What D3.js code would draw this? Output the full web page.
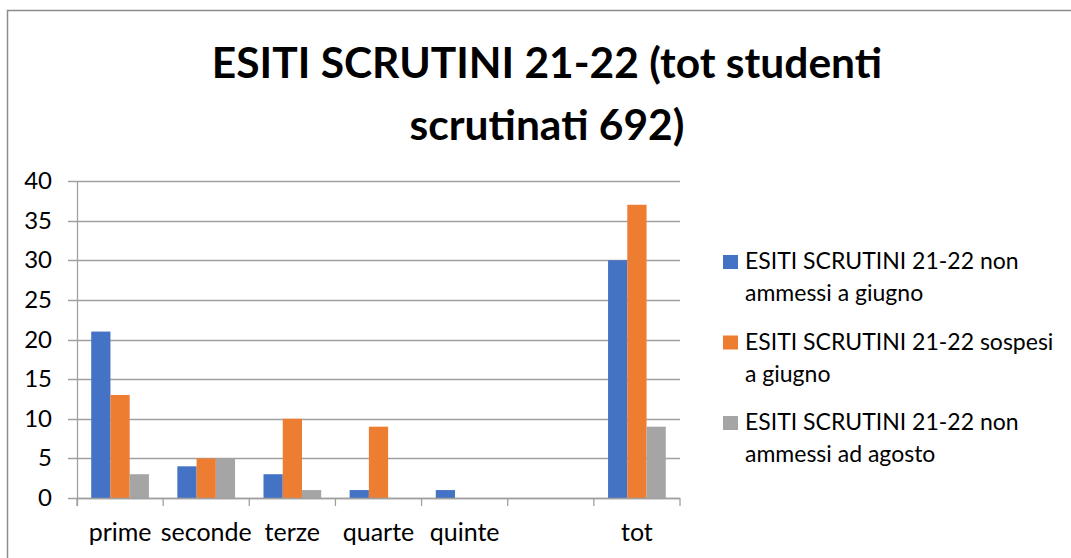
<!DOCTYPE html>
<html>
<head>
<meta charset="utf-8">
<script src="https://cdn.jsdelivr.net/npm/d3@7"></script>
<style>
  body { margin: 0; background: #fff; }
  text { font-family: Lato, "Open Sans", sans-serif; fill: #000; }
</style>
</head>
<body>
<script>
  var width = 1071;
  var height = 558;

  var categories = ["prime", "seconde", "terze", "quarte", "quinte", "", "tot"];
  var seriesNames = [
    ["ESITI SCRUTINI 21-22 non", "ammessi a giugno"],
    ["ESITI SCRUTINI 21-22 sospesi", "a giugno"],
    ["ESITI SCRUTINI 21-22 non", "ammessi ad agosto"]
  ];
  var nonAmmessiGiugno = [21, 4, 3, 1, 1, 0, 30];
  var sospesiGiugno = [13, 5, 10, 9, 0, 0, 37];
  var nonAmmessiAgosto = [3, 5, 1, 0, 0, 0, 9];
  var yTicks = [0, 5, 10, 15, 20, 25, 30, 35, 40];
  var colors = ["#4472C4", "#ED7D31", "#A5A5A5"];

  var series = [nonAmmessiGiugno, sospesiGiugno, nonAmmessiAgosto];

  var svg = d3.select("body")
    .append("svg")
    .attr("width", width)
    .attr("height", height);

  // chart frame
  svg.append("rect")
    .attr("x", 7.5)
    .attr("y", 10.5)
    .attr("width", 1200)
    .attr("height", 700)
    .style("fill", "none")
    .style("stroke", "#8c8c8c")
    .style("stroke-width", 1.5);

  // title
  var title = svg.append("text")
    .attr("text-anchor", "middle")
    .style("font-weight", "bold")
    .style("font-size", "42.5px");
  title.append("tspan").attr("x", 547).attr("y", 78).text("ESITI SCRUTINI 21-22 (tot studenti");
  title.append("tspan").attr("x", 547).attr("y", 140).text("scrutinati 692)");

  var plotLeft = 77, plotRight = 680, plotTop = 181, plotBottom = 498;

  var x0 = d3.scaleBand()
    .domain(d3.range(categories.length))
    .range([plotLeft, plotRight])
    .paddingInner(0.33)
    .paddingOuter(0.165);

  var x1 = d3.scaleBand()
    .domain(d3.range(series.length))
    .range([0, x0.bandwidth()]);

  var y = d3.scaleLinear()
    .domain([0, 40])
    .range([plotBottom, plotTop]);

  // gridlines
  svg.append("g")
    .selectAll("line")
    .data(yTicks)
    .enter()
    .append("line")
    .attr("x1", plotLeft - 9)
    .attr("x2", plotRight)
    .attr("y1", function(d) { return Math.round(y(d)) + 0.5; })
    .attr("y2", function(d) { return Math.round(y(d)) + 0.5; })
    .style("stroke", "#a0a0a0")
    .style("stroke-width", 1.3);

  // y labels
  svg.append("g")
    .selectAll("text")
    .data(yTicks)
    .enter()
    .append("text")
    .attr("x", 52)
    .attr("y", function(d) { return y(d) + 8; })
    .attr("text-anchor", "end")
    .style("font-size", "24px")
    .text(function(d) { return d; });

  // bars
  var groups = svg.append("g")
    .selectAll("g")
    .data(categories)
    .enter()
    .append("g")
    .attr("transform", function(d, i) { return "translate(" + x0(i) + ",0)"; });

  groups.selectAll("rect")
    .data(function(d, i) { return series.map(function(s, k) { return { k: k, v: s[i] }; }); })
    .enter()
    .append("rect")
    .attr("x", function(d) { return x1(d.k); })
    .attr("width", x1.bandwidth())
    .attr("y", function(d) { return y(d.v); })
    .attr("height", function(d) { return plotBottom - y(d.v); })
    .style("fill", function(d) { return colors[d.k]; });

  // axis lines
  svg.append("line")
    .attr("x1", plotLeft + 0.5).attr("x2", plotLeft + 0.5)
    .attr("y1", plotTop).attr("y2", plotBottom + 8)
    .style("stroke", "#a0a0a0").style("stroke-width", 1.3);

  svg.append("line")
    .attr("x1", plotLeft).attr("x2", plotRight)
    .attr("y1", plotBottom + 0.5).attr("y2", plotBottom + 0.5)
    .style("stroke", "#a0a0a0").style("stroke-width", 1.3);

  var step = x0.step();
  svg.append("g")
    .selectAll("line")
    .data(d3.range(categories.length + 1))
    .enter()
    .append("line")
    .attr("x1", function(i) { return plotLeft + i * step; })
    .attr("x2", function(i) { return plotLeft + i * step; })
    .attr("y1", plotBottom)
    .attr("y2", plotBottom + 8)
    .style("stroke", "#a0a0a0").style("stroke-width", 1.3);

  // category labels
  svg.append("g")
    .selectAll("text")
    .data(categories)
    .enter()
    .append("text")
    .attr("x", function(d, i) { return x0(i) + x0.bandwidth() / 2; })
    .attr("y", 541)
    .attr("text-anchor", "middle")
    .style("font-size", "25px")
    .text(function(d) { return d; });

  // legend
  var legend = svg.append("g")
    .selectAll("g")
    .data(seriesNames)
    .enter()
    .append("g")
    .attr("transform", function(d, i) { return "translate(723," + (255 + i * 80.5) + ")"; });

  legend.append("rect")
    .attr("width", 15)
    .attr("height", 14)
    .style("fill", function(d, i) { return colors[i]; });

  legend.each(function(d) {
    var t = d3.select(this).append("text")
      .style("font-size", "23px");
    d.forEach(function(line, j) {
      t.append("tspan").attr("x", 22).attr("y", 14 + j * 32).text(line);
    });
  });
</script>
</body>
</html>
